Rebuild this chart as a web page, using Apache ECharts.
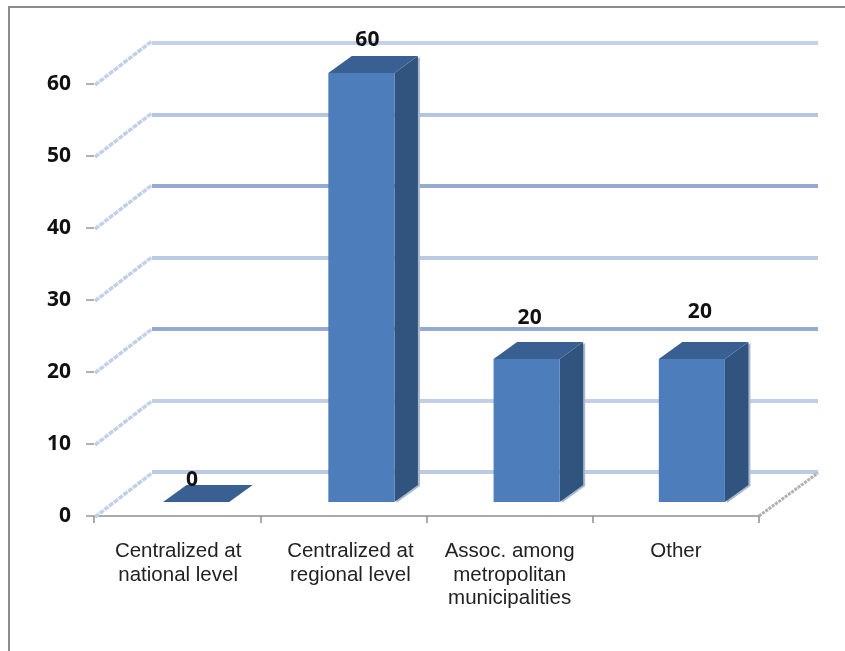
<!DOCTYPE html>
<html>
<head>
<meta charset="utf-8">
<style>
  html, body { margin: 0; padding: 0; background: #fff; }
  #chart { width: 845px; height: 651px; }
</style>
<script src="https://cdn.jsdelivr.net/npm/echarts@6/dist/echarts.min.js"></script>
</head>
<body>
<div id="chart"></div>
<script>
// Survey shares by governance arrangement
const categories = [
  'Centralized at\nnational level',
  'Centralized at\nregional level',
  'Assoc. among\nmetropolitan\nmunicipalities',
  'Other'
];
const shares = [0, 60, 20, 20];
const tickValues = [0, 10, 20, 30, 40, 50, 60];

// Pseudo-3D box styling: wall depth, bar depth and per-line tints
const wallDepth = [57, -43];
const barDepth = [23.5, -17];
const barWidthRatio = 0.4;
const gridTints = ['#bccbe4', '#c2cfe6', '#94aad2', '#bccbe4', '#94aad2', '#b4c5e0', '#c4d1e8'];
const labelNudge = [[-4, -22], [6, -33], [3, -41], [8, -47]];
const categoryNudge = [2, 14, 0, 0];

const chart = echarts.init(document.getElementById('chart'), null, { renderer: 'canvas' });

// Shifts a category label sideways by padding each of its lines
function shiftedLabel(value, index) {
  return value.split('\n').map(function (line) {
    return '{c' + index + '|' + line + '}';
  }).join('\n');
}
const labelRich = {};
categoryNudge.forEach(function (pad, i) {
  labelRich['c' + i] = {
    fontFamily: 'Liberation Sans', fontSize: 20.5, color: '#222',
    lineHeight: 23.5, padding: [0, 0, 0, pad]
  };
});

function polygon(points, fill, z2) {
  return { type: 'polygon', z2: z2 || 0, shape: { points: points }, style: { fill: fill } };
}

// Side wall and floor edges: one slanted stroke per tick, plus the right floor edge
function renderWallEdges(params, api) {
  const y = api.coord([0, api.value(0)])[1];
  const sys = params.coordSys;
  const isFloor = api.value(0) === 0;
  const children = [{
    type: 'line',
    shape: { x1: sys.x + 1, y1: y + 1, x2: sys.x + 1 + wallDepth[0], y2: y + wallDepth[1] },
    style: { stroke: '#c3d0e8', lineWidth: 3.5, lineDash: [5, 1] }
  }];
  if (isFloor) {
    children.push({
      type: 'line',
      shape: { x1: sys.x + sys.width, y1: y, x2: sys.x + sys.width + wallDepth[0] + 2, y2: y + wallDepth[1] },
      style: { stroke: '#b0b0b0', lineWidth: 3, lineDash: [3, 1] }
    });
  }
  return { type: 'group', children: children };
}

// Draws one extruded bar: shadow, side, top and front faces with its value label
function renderBar(params, api) {
  const idx = api.value(0);
  const val = api.value(1);
  const top = api.coord([idx, val]);
  const base = api.coord([idx, 0]);
  const w = api.size([1, 0])[0] * barWidthRatio;
  const l = top[0] - w / 2;
  const r = l + w;
  const t = top[1];
  const b = base[1];
  const dx = barDepth[0];
  const dy = barDepth[1];
  const nudge = labelNudge[idx];
  const children = [];
  if (val > 0) {
    children.push(polygon([[r + 2, t + 1], [r + dx + 2, t + dy + 1], [r + dx + 2, b + dy + 1], [r + 2, b + 1]], '#a9b8cf'));
    children.push(polygon([[r, t], [r + dx, t + dy], [r + dx, b + dy], [r, b]], '#31547f'));
    children.push({
      type: 'rect',
      shape: { x: l, y: t, width: w, height: b - t },
      style: { fill: '#4d7ebb' }
    });
  }
  children.push(polygon([[l, t], [l + dx, t + dy], [r + dx, t + dy], [r, t]], '#395f93'));
  children.push({
    type: 'text',
    z2: 5,
    style: {
      x: (l + r) / 2 + nudge[0],
      y: t + nudge[1],
      text: String(val),
      fill: '#111',
      font: 'bold 21px "Noto Sans"',
      align: 'center',
      verticalAlign: 'middle'
    }
  });
  return { type: 'group', children: children };
}

function hiddenCategoryAxis(gridIndex) {
  return {
    gridIndex: gridIndex, type: 'category', data: categories,
    axisLine: { show: false }, axisTick: { show: false }, axisLabel: { show: false }
  };
}

function hiddenValueAxis(gridIndex, splitLine) {
  return {
    gridIndex: gridIndex, type: 'value', min: 0, max: 60, interval: 10,
    axisLine: { show: false }, axisTick: { show: false }, axisLabel: { show: false },
    splitLine: splitLine
  };
}

chart.setOption({
  animation: false,
  backgroundColor: '#ffffff',
  graphic: [
    { type: 'rect', silent: true, shape: { x: 9, y: 7, width: 860, height: 670 },
      style: { fill: 'none', stroke: '#8c8c8c', lineWidth: 2 } }
  ],
  // Front plane with the axes, back wall with the gridlines, middle plane with the bars
  grid: [
    { left: 94, right: 86, top: 84, bottom: 135 },
    { left: 152, right: 27, top: 43, bottom: 179 },
    { left: 113.5, width: 661, top: 73, bottom: 149 }
  ],
  xAxis: [
    {
      gridIndex: 0, type: 'category', data: categories,
      axisLine: { lineStyle: { color: '#8f8f8f', width: 1.5 } },
      axisTick: { show: true, length: 7, lineStyle: { color: '#8f8f8f', width: 1.5 } },
      axisLabel: { margin: 24, interval: 0, formatter: shiftedLabel, rich: labelRich }
    },
    hiddenCategoryAxis(1),
    hiddenCategoryAxis(2)
  ],
  yAxis: [
    {
      gridIndex: 0, type: 'value', min: 0, max: 60, interval: 10,
      axisLine: { show: false },
      axisTick: { show: true, length: 8, lineStyle: { color: '#999', width: 1.5 } },
      axisLabel: {
        margin: 23, color: '#111', padding: [10, 0, 0, 0],
        fontFamily: 'Noto Sans', fontWeight: 'bold', fontSize: 21
      },
      splitLine: { show: false }
    },
    hiddenValueAxis(1, { show: true, lineStyle: { color: gridTints, width: 4 } }),
    hiddenValueAxis(2, { show: false })
  ],
  series: [
    {
      type: 'custom', xAxisIndex: 0, yAxisIndex: 0, z: 1, silent: true, clip: false,
      encode: { y: 0 },
      data: tickValues.map(function (v) { return [v]; }),
      renderItem: renderWallEdges
    },
    {
      type: 'custom', xAxisIndex: 2, yAxisIndex: 2, z: 3, silent: true, clip: false,
      encode: { x: 0, y: 1 },
      data: shares.map(function (v, i) { return [i, v]; }),
      renderItem: renderBar
    }
  ]
});
</script>
</body>
</html>
